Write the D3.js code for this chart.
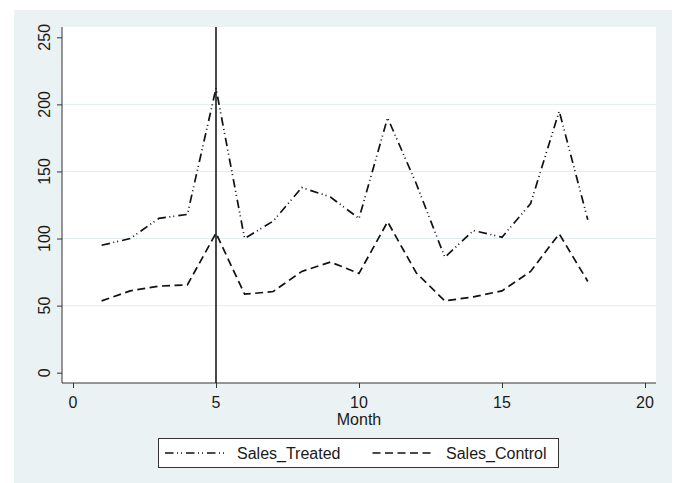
<html>
<head>
  <script src="https://unpkg.com/d3@7/dist/d3.min.js"></script>
  <style>
    body { margin: 0; background: #fff; }
    text { font-family: "Liberation Sans", Arial, sans-serif; fill: #1a1a1a; }
  </style>
</head>
<body>
  <svg id="container" width="676" height="483"></svg>
<script>
    const months = [1, 2, 3, 4, 5, 6, 7, 8, 9, 10, 11, 12, 13, 14, 15, 16, 17, 18];
    const salesTreated = [95, 100, 115, 118, 212, 100, 113, 138, 131, 115, 190, 141, 86, 106, 101, 126, 195, 114];
    const salesControl = [53.5, 61, 64.5, 65.5, 104, 58.5, 60.5, 75.5, 82.5, 74, 112.5, 74.5, 53.5, 56.5, 61, 75.5, 103.5, 68];
    const xTicks = [0, 5, 10, 15, 20];
    const yTicks = [0, 50, 100, 150, 200, 250];
    const gridTicks = [50, 100, 150, 200];
    const eventMonth = 5;

    const svg = d3.select('#container');

    // outer graph region
    svg.append('rect')
      .attr('x', 14).attr('y', 10)
      .attr('width', 658).attr('height', 473)
      .attr('fill', '#eaf2f3');

    // plot region
    const plot = { left: 62, right: 656, top: 27, bottom: 383 };
    svg.append('rect')
      .attr('x', plot.left).attr('y', plot.top)
      .attr('width', plot.right - plot.left).attr('height', plot.bottom - plot.top)
      .attr('fill', '#fff');

    const x = d3.scaleLinear().domain([0, 20]).range([73, 645]);
    const y = d3.scaleLinear().domain([0, 250]).range([372.7, 37.3]);

    // grid lines
    svg.append('g')
      .selectAll('line')
      .data(gridTicks)
      .enter()
      .append('line')
      .attr('x1', plot.left).attr('x2', plot.right)
      .attr('y1', d => y(d)).attr('y2', d => y(d))
      .attr('stroke', '#e3ecef')
      .attr('stroke-width', 1);

    // y axis
    const yAxis = svg.append('g')
      .attr('transform', `translate(${plot.left}, 0)`)
      .call(d3.axisLeft(y).tickValues(yTicks).tickSize(5).tickFormat(''));
    yAxis.select('.domain').attr('d', `M0,${plot.top}V${plot.bottom}`);
    yAxis.selectAll('line, .domain').attr('stroke', '#333');

    svg.append('g')
      .selectAll('text')
      .data(yTicks)
      .enter()
      .append('text')
      .attr('transform', d => `translate(50, ${y(d)}) rotate(-90)`)
      .attr('text-anchor', 'middle')
      .style('font-size', '16px')
      .text(d => d);

    // x axis
    const xAxis = svg.append('g')
      .attr('transform', `translate(0, ${plot.bottom})`)
      .call(d3.axisBottom(x).tickValues(xTicks).tickSize(5).tickFormat(''));
    xAxis.select('.domain').attr('d', `M${plot.left},0H${plot.right}`);
    xAxis.selectAll('line, .domain').attr('stroke', '#333');

    svg.append('g')
      .selectAll('text')
      .data(xTicks)
      .enter()
      .append('text')
      .attr('x', d => x(d))
      .attr('y', 408)
      .attr('text-anchor', 'middle')
      .style('font-size', '16px')
      .text(d => d);

    svg.append('text')
      .attr('x', x(10)).attr('y', 425)
      .attr('text-anchor', 'middle')
      .style('font-size', '16px')
      .text('Month');

    // event line
    svg.append('line')
      .attr('x1', x(eventMonth)).attr('x2', x(eventMonth))
      .attr('y1', plot.top).attr('y2', plot.bottom)
      .attr('stroke', '#1a1a1a')
      .attr('stroke-width', 1.6);

    const treatedDash = '8.5,3.5,1,3,1,4';
    const controlDash = '8,4.5';

    const line = d3.line()
      .x((d, i) => x(months[i]))
      .y(d => y(d));

    svg.append('path')
      .datum(salesTreated)
      .attr('d', line)
      .attr('fill', 'none')
      .attr('stroke', '#111')
      .attr('stroke-width', 1.7)
      .attr('stroke-dasharray', treatedDash);

    svg.append('path')
      .datum(salesControl)
      .attr('d', line)
      .attr('fill', 'none')
      .attr('stroke', '#111')
      .attr('stroke-width', 1.7)
      .attr('stroke-dasharray', controlDash);

    // legend
    const legend = svg.append('g');
    legend.append('rect')
      .attr('x', 158.5).attr('y', 438.5)
      .attr('width', 400).attr('height', 29)
      .attr('fill', '#fff')
      .attr('stroke', '#333')
      .attr('stroke-width', 1);

    const legendItems = [
      { label: 'Sales_Treated', dash: treatedDash, x0: 165, x1: 228, tx: 237 },
      { label: 'Sales_Control', dash: controlDash, x0: 372.5, x1: 435, tx: 446 }
    ];
    legendItems.forEach(item => {
      legend.append('line')
        .attr('x1', item.x0).attr('x2', item.x1)
        .attr('y1', 453).attr('y2', 453)
        .attr('stroke', '#111')
        .attr('stroke-width', 1.7)
        .attr('stroke-dasharray', item.dash);
      legend.append('text')
        .attr('x', item.tx).attr('y', 459)
        .style('font-size', '16px')
        .text(item.label);
    });
</script>
</body>
</html>
